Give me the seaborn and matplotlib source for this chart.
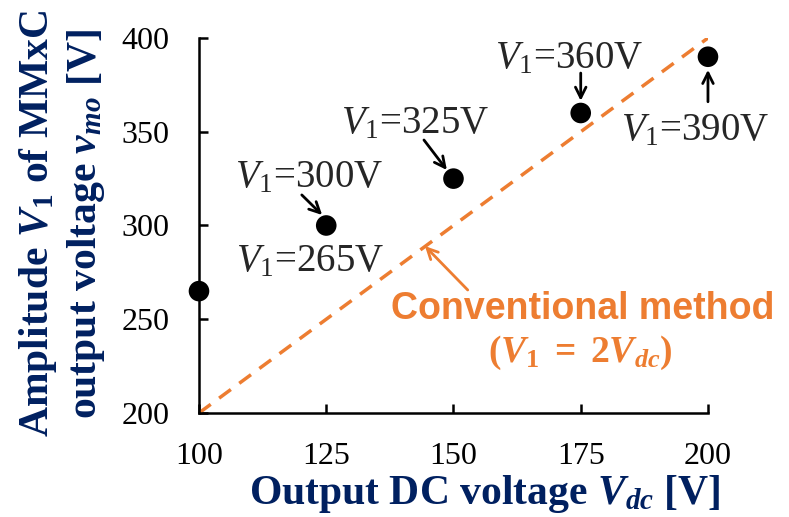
import matplotlib
matplotlib.use("Agg")
import matplotlib.pyplot as plt
import seaborn as sns
import pandas as pd

# measured points
dc_voltage = [100, 125, 150, 175, 200]
amplitude = [265, 300, 325, 360, 390]

# conventional method line V1 = 2*Vdc
conv_x = [100, 200]
conv_y = [200, 400]

x_ticks = [100, 125, 150, 175, 200]
y_ticks = [200, 250, 300, 350, 400]

navy = "#002060"
orange = "#ED7D31"

sns.set_style("ticks")
plt.rcParams["font.family"] = ["Liberation Serif", "DejaVu Serif"]
plt.rcParams["mathtext.fontset"] = "custom"
plt.rcParams["mathtext.rm"] = "Liberation Serif"
plt.rcParams["mathtext.it"] = "Liberation Serif:italic"
plt.rcParams["mathtext.bf"] = "Liberation Serif:bold"
plt.rcParams["mathtext.bfit"] = "Liberation Serif:italic:bold"

fig = plt.figure(figsize=(7.89, 5.17), dpi=100)
ax = fig.add_axes([0.2522, 0.2012, 0.6451, 0.7253])

df_pts = pd.DataFrame({"vdc": dc_voltage, "v1": amplitude})
df_conv = pd.DataFrame({"vdc": conv_x, "v1": conv_y})

sns.lineplot(data=df_conv, x="vdc", y="v1", ax=ax, color=orange, lw=2.5,
             dashes=False, zorder=2)
ax.lines[0].set_dashes((4.2, 3.0))
sns.scatterplot(data=df_pts, x="vdc", y="v1", ax=ax, color="black", s=220,
                edgecolor="none", zorder=3, clip_on=False)

ax.set_xlim(100, 200)
ax.set_ylim(200, 400)
ax.set_xticks(x_ticks)
ax.set_yticks(y_ticks)
sns.despine(ax=ax)
for sp in ["left", "bottom"]:
    ax.spines[sp].set_linewidth(1.8)
    ax.spines[sp].set_color("black")
ax.tick_params(direction="in", length=6.5, width=1.8, labelsize=23, pad=21,
               colors="black")

ax.set_xlabel(r"Output DC voltage $\mathbfit{V}_{\mathbfit{dc}}$ [V]",
              fontsize=30, fontweight="bold", color=navy)
ax.set_ylabel("Amplitude $\\mathbfit{V}_{\\mathbf{1}}$ of MMxC\n"
              "output voltage $\\mathbfit{v}_{\\mathbfit{mo}}$ [V]",
              fontsize=30, fontweight="bold", color=navy, linespacing=1.2)
ax.xaxis.set_label_coords(0.562, -0.16)
ax.yaxis.set_label_coords(-0.18, 0.505)

# annotations for each point
ann_fs = 28
ax.text(121.6, 325.5, r"$V_1$=300V", fontsize=ann_fs, ha="center", va="center")
ax.text(121.8, 280.5, r"$V_1$=265V", fontsize=ann_fs, ha="center", va="center")
ax.text(142.4, 354.5, r"$V_1$=325V", fontsize=ann_fs, ha="center", va="center")
ax.text(172.7, 389, r"$V_1$=360V", fontsize=ann_fs, ha="center", va="center")
ax.text(197.4, 350.5, r"$V_1$=390V", fontsize=ann_fs, ha="center", va="center")

arrows = [((120.2, 316.3), (124.2, 305.6)),
          ((144.2, 345.6), (148.7, 329.6)),
          ((175, 381.3), (175, 366.5)),
          ((200, 366), (200, 383))]
for tail, head in arrows:
    ax.annotate("", xy=head, xytext=tail,
                arrowprops=dict(arrowstyle="->", color="black", lw=2.0,
                                mutation_scale=19, shrinkA=0, shrinkB=0),
                annotation_clip=False)

ax.annotate("", xy=(144.4, 289), xytext=(152.8, 265.6),
            arrowprops=dict(arrowstyle="->", color=orange, lw=2.0,
                            mutation_scale=19, shrinkA=0, shrinkB=0))
ax.text(175.4, 255.5, "Conventional method", fontsize=27, fontweight="bold",
        color=orange, family="Liberation Sans", ha="center", va="center")
ax.text(174.9, 232,
        r"$\mathbf{(}\mathbfit{V}_{\mathbf{1}}\mathbf{\ =\ 2}\mathbfit{V}_{\mathbfit{dc}}\mathbf{)}$",
        fontsize=27, color=orange, ha="center", va="center")

fig.savefig("out.png", dpi=100)
